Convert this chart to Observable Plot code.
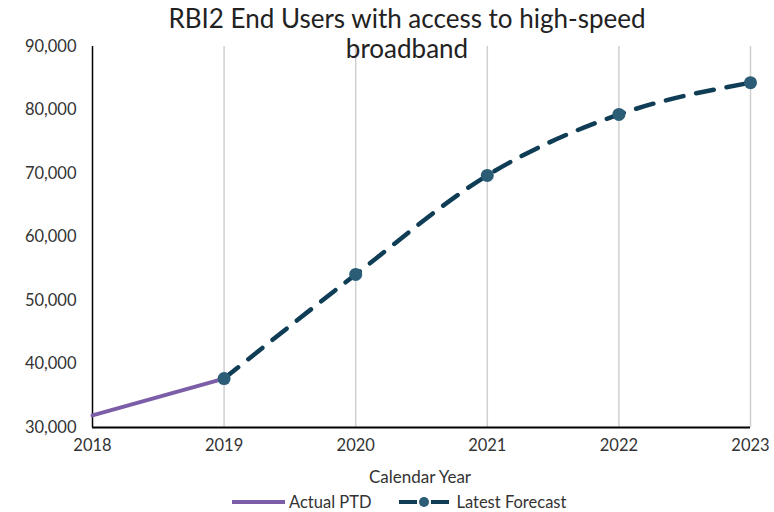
<!DOCTYPE html>
<html><head><meta charset="utf-8">
<script src="https://cdn.jsdelivr.net/npm/d3@7"></script>
<script src="https://cdn.jsdelivr.net/npm/@observablehq/plot@0.6"></script>
<style>
body{margin:0;background:#fff;font-family:Lato,"Open Sans",sans-serif;}
#wrap{position:relative;width:774px;height:512px;}
#title{position:absolute;left:0;width:814px;top:3px;text-align:center;font-size:26px;line-height:30px;color:#222;}
#xlabel{position:absolute;left:0;width:840px;top:466px;text-align:center;font-size:17px;color:#333;}
#legend{position:absolute;top:492px;left:230px;display:flex;align-items:center;font-size:16.5px;color:#333;}
#legend span{display:flex;align-items:center;gap:3px}
</style></head><body>
<div id="wrap"><div id="chart"></div>
<div id="title">RBI2 End Users with access to high-speed<br>broadband</div>
<div id="xlabel">Calendar Year</div>
<div id="legend">
<span><svg width="56" height="10"><line x1="2" y1="5" x2="55" y2="5" stroke="#7B5EA7" stroke-width="4"/></svg>Actual PTD</span>
<span style="margin-left:26px"><svg width="56" height="12"><line x1="2" y1="6" x2="20" y2="6" stroke="#0E3D55" stroke-width="4"/><line x1="34" y1="6" x2="52" y2="6" stroke="#0E3D55" stroke-width="4"/><circle cx="27" cy="6" r="5" fill="#2B5D77"/></svg>Latest Forecast</span>
</div></div>
<script>
const actualYears = [2018, 2019];
const actualValues = [31900, 37700];
const forecastYears = [2019, 2020, 2021, 2022, 2023];
const forecastValues = [37700, 54100, 69700, 79300, 84300];
const yTicks = [30000, 40000, 50000, 60000, 70000, 80000, 90000];
const xTicks = [2018, 2019, 2020, 2021, 2022, 2023];

const actual = actualYears.map((y, i) => ({year: y, value: actualValues[i]}));
const forecast = forecastYears.map((y, i) => ({year: y, value: forecastValues[i]}));
const fmt = d3.format(",");

const chart = Plot.plot({
  width: 774, height: 512,
  marginLeft: 92, marginRight: 24, marginTop: 46, marginBottom: 85,
  style: {fontFamily: "Lato, 'Open Sans', sans-serif", fontSize: "16.5px", color: "#333"},
  x: {domain: [2018, 2023], ticks: xTicks, tickFormat: d => String(d), tickSize: 0, tickPadding: 12, label: null},
  y: {domain: [30000, 90000], ticks: yTicks, tickFormat: fmt, tickSize: 0, tickPadding: 16, label: null},
  marks: [
    Plot.ruleX(xTicks.slice(1), {stroke: "#d0d0d0", strokeWidth: 1.5}),
    Plot.ruleX([2018], {stroke: "#000", strokeWidth: 1.5}),
    Plot.ruleY([30000], {stroke: "#000", strokeWidth: 2}),
    Plot.line(actual, {x: "year", y: "value", stroke: "#7B5EA7", strokeWidth: 4}),
    Plot.line(forecast, {x: "year", y: "value", stroke: "#0E3D55", strokeWidth: 4.5, strokeDasharray: "18,13", curve: "monotone-x"}),
    Plot.dot(forecast, {x: "year", y: "value", r: 6.5, fill: "#2B5D77"})
  ]
});
document.getElementById("chart").append(chart);
</script>
</body></html>
